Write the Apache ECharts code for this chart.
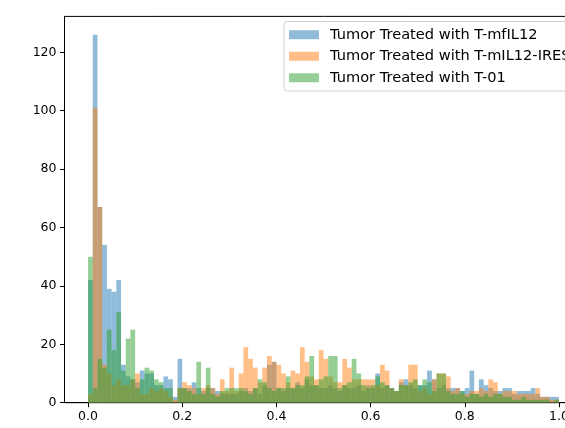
<!DOCTYPE html>
<html>
<head>
<meta charset="utf-8">
<script src="https://cdn.jsdelivr.net/npm/echarts@6/dist/echarts.min.js"></script>
<style>
  html, body { margin: 0; padding: 0; background: #fff; overflow: hidden; }
  /* the original figure is cropped on the right, so the canvas is wider than the window */
  #chart-container { width: 600px; height: 428px; }
</style>
</head>
<body>
<div id="chart-container"></div>
<script>
// histogram, 100 bins of width 0.01 between 0 and 1
const binWidth = 0.01;
const seriesNames = [
  'Tumor Treated with T-mfIL12',
  'Tumor Treated with T-mIL12-IRES',
  'Tumor Treated with T-01'
];

const countsMfIL12 = [
  42, 126, 67, 54, 39, 38, 42, 13, 9, 8,
  7, 11, 10, 10, 6, 6, 9, 8, 2, 15,
  5, 5, 7, 5, 4, 5, 5, 4, 3, 3,
  3, 3, 4, 5, 4, 5, 3, 6, 13, 14,
  5, 4, 5, 5, 7, 5, 8, 6, 6, 5,
  5, 6, 5, 4, 6, 5, 5, 6, 4, 6,
  5, 10, 5, 6, 5, 4, 7, 8, 6, 5,
  6, 6, 11, 8, 5, 6, 5, 5, 5, 4,
  5, 11, 3, 8, 6, 5, 4, 4, 5, 5,
  3, 4, 4, 4, 5, 3, 2, 2, 2, 2
];

const countsIRES = [
  3, 101, 67, 13, 10, 6, 8, 6, 6, 8,
  10, 3, 3, 5, 4, 5, 4, 2, 1, 5,
  7, 6, 5, 3, 5, 6, 5, 3, 8, 4,
  12, 4, 10, 19, 15, 12, 7, 12, 16, 14,
  13, 10, 7, 11, 10, 19, 14, 9, 8, 18,
  15, 9, 7, 7, 15, 12, 8, 8, 8, 8,
  8, 6, 13, 11, 5, 4, 8, 6, 13, 13,
  4, 5, 3, 8, 10, 10, 9, 4, 5, 3,
  3, 4, 4, 5, 4, 8, 7, 3, 4, 4,
  4, 3, 3, 3, 3, 5, 2, 2, 1, 1
];

const countsT01 = [
  50, 5, 15, 12, 25, 18, 31, 11, 22, 25,
  5, 8, 12, 11, 8, 7, 5, 5, 0, 5,
  5, 4, 3, 14, 3, 12, 3, 2, 4, 5,
  5, 5, 5, 4, 3, 5, 8, 7, 5, 4,
  5, 5, 9, 5, 6, 6, 9, 16, 6, 8,
  9, 16, 16, 5, 6, 7, 15, 10, 6, 5,
  6, 9, 7, 6, 5, 4, 6, 6, 7, 8,
  6, 8, 7, 4, 10, 10, 4, 3, 3, 4,
  2, 3, 3, 2, 3, 2, 3, 3, 2, 2,
  1, 1, 2, 1, 1, 1, 1, 1, 0, 1
];

const xTicks = [0, 0.2, 0.4, 0.6, 0.8, 1.0];
const yTicks = [0, 20, 40, 60, 80, 100, 120];

const colors = [
  'rgba(31,119,180,0.5)',
  'rgba(255,127,14,0.5)',
  'rgba(44,160,44,0.5)'
];

function histSeries(name, counts, color) {
  return {
    name: name,
    type: 'custom',
    itemStyle: { color: color },
    encode: { x: 0, y: 1 },
    data: counts.map((c, i) => [i * binWidth, c]),
    renderItem: (params, api) => {
      const start = api.value(0);
      const v = api.value(1);
      const p0 = api.coord([start, 0]);
      const p1 = api.coord([start + binWidth, v]);
      return {
        type: 'rect',
        shape: { x: p0[0], y: p1[1], width: p1[0] - p0[0], height: p0[1] - p1[1] },
        style: { fill: color }
      };
    }
  };
}

const chart = echarts.init(document.getElementById('chart-container'));
const font = 'DejaVu Sans';

chart.setOption({
  animation: false,
  backgroundColor: '#fff',
  textStyle: { fontFamily: font },
  grid: {
    left: 64.5,
    width: 518,
    top: 16.4,
    bottom: 25.3,
    show: true,
    borderColor: '#000',
    borderWidth: 1,
    backgroundColor: 'transparent'
  },
  legend: {
    orient: 'vertical',
    left: 284,
    top: 21.5,
    padding: [5, 5, 5, 5],
    itemWidth: 30,
    itemHeight: 9,
    itemGap: 5,
    icon: 'rect',
    borderColor: '#d0d0d0',
    borderWidth: 1,
    borderRadius: 3,
    backgroundColor: 'rgba(255,255,255,0.8)',
    textStyle: { fontFamily: font, fontSize: 14.6, color: '#000', lineHeight: 16.5, padding: [0, 0, 0, 6] },
    data: seriesNames
  },
  xAxis: {
    type: 'value',
    min: -0.05,
    max: 1.05,
    splitLine: { show: false },
    axisLine: { show: true, onZero: false, lineStyle: { color: '#000', width: 1 } },
    axisTick: { show: true, customValues: xTicks, length: 4.5, lineStyle: { color: '#000' } },
    axisLabel: {
      customValues: xTicks,
      margin: 8,
      fontSize: 12.5,
      color: '#000',
      fontFamily: font,
      formatter: v => v.toFixed(1)
    }
  },
  yAxis: {
    type: 'value',
    min: 0,
    max: 132.3,
    splitLine: { show: false },
    axisLine: { show: true, onZero: false, lineStyle: { color: '#000', width: 1 } },
    axisTick: { show: true, customValues: yTicks, length: 4.5, lineStyle: { color: '#000' } },
    axisLabel: {
      customValues: yTicks,
      margin: 8,
      fontSize: 12.5,
      color: '#000',
      fontFamily: font
    }
  },
  series: [
    histSeries(seriesNames[0], countsMfIL12, colors[0]),
    histSeries(seriesNames[1], countsIRES, colors[1]),
    histSeries(seriesNames[2], countsT01, colors[2])
  ]
});
</script>
</body>
</html>
